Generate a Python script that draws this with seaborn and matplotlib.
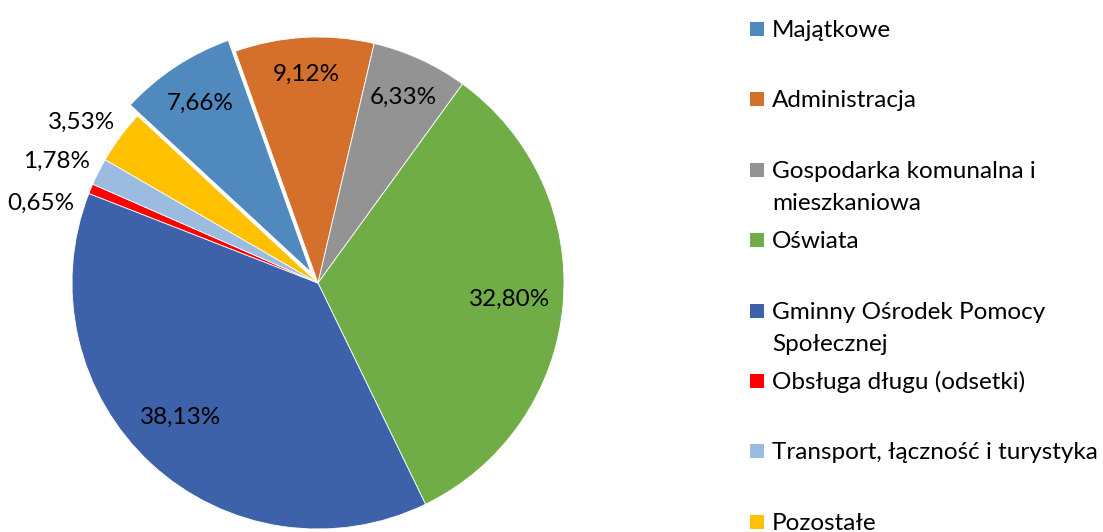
import numpy as np
import matplotlib
matplotlib.use("Agg")
import matplotlib.pyplot as plt
from matplotlib.patches import Rectangle
import seaborn as sns

# data
categories = ["Majątkowe", "Administracja", "Gospodarka komunalna i\nmieszkaniowa",
              "Oświata", "Gminny Ośrodek Pomocy\nSpołecznej", "Obsługa długu (odsetki)",
              "Transport, łączność i turystyka", "Pozostałe"]
shares = [7.66, 9.12, 6.33, 32.80, 38.13, 0.65, 1.78, 3.53]
colors = ["#4F89BE", "#D4702B", "#939393", "#70AD47", "#3D62AA", "#FF0000", "#9BBBE0", "#FFC000"]

# label placement (style): radius as fraction of R, angle nudge in degrees
label_r = [0.82, 0.85, 0.83, 0.78, 0.78, 1.04, 1.05, 1.05]
label_nudge = [0, 0, 0, 0, -3, 4.4, -1.2, -1.9]
outside = [False, False, False, False, False, True, True, True]

sns.set_theme(style="white")
plt.rcParams["font.family"] = ["Lato", "DejaVu Sans"]
FS = 17.5

W, H = 1103, 532
fig = plt.figure(figsize=(W / 100, H / 100), dpi=100)

# pie center (318, 283) px, radius 246 px
R = 246
cx, cy = 318, H - 283
span = 2.6 * R
ax = fig.add_axes([(cx - span / 2) / W, (cy - span / 2) / H, span / W, span / H])

pal = sns.color_palette(colors)
explode = [0.053] + [0] * (len(shares) - 1)
wedges, _ = ax.pie(shares, colors=pal, startangle=137.2, counterclock=False,
                   explode=explode, radius=1,
                   wedgeprops=dict(edgecolor="white", linewidth=0.6))
ax.set_xlim(-1.3, 1.3)
ax.set_ylim(-1.3, 1.3)
ax.set_aspect("equal")
ax.axis("off")

for w, v, r, nd, out in zip(wedges, shares, label_r, label_nudge, outside):
    mid = np.deg2rad((w.theta1 + w.theta2) / 2 + nd)
    x = w.center[0] + r * np.cos(mid)
    y = w.center[1] + r * np.sin(mid)
    txt = f"{v:.2f}%".replace(".", ",")
    ax.text(x, y, txt, ha="right" if out else "center", va="center",
            fontsize=FS, color="black")

# legend drawn by hand, uniform row spacing like the original
base0, step, line_gap = 37, 70.4, 32
for i, (name, c) in enumerate(zip(categories, colors)):
    bpx = base0 + step * i
    fig.patches.append(Rectangle((750 / W, (H - bpx + 1) / H), 14 / W, 14 / H,
                                 transform=fig.transFigure, facecolor=c,
                                 edgecolor="none"))
    for j, line in enumerate(name.split("\n")):
        fig.text(772 / W, (H - bpx - line_gap * j) / H, line, ha="left",
                 va="baseline", fontsize=FS, color="black")

fig.savefig("out.png", dpi=100)
